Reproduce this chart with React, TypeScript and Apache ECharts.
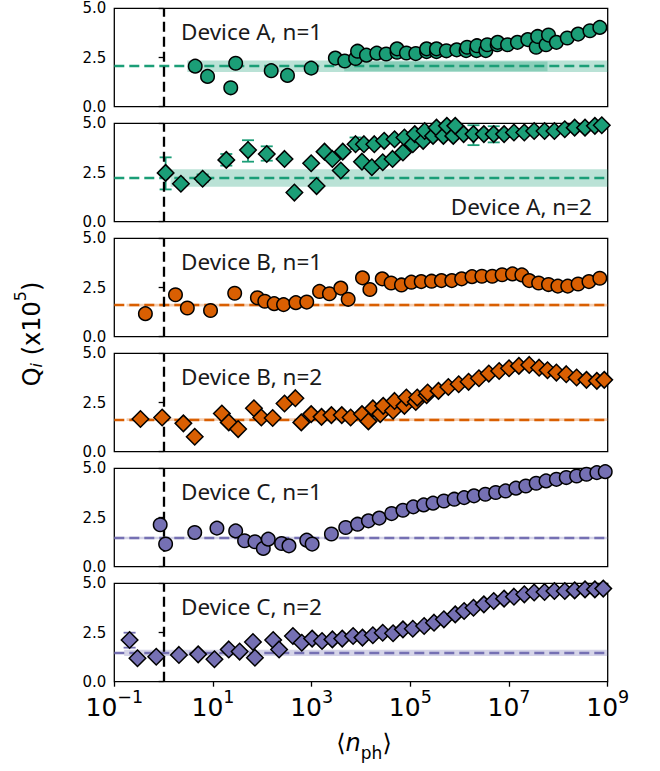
import React, { useEffect, useRef } from "react";
import * as echarts from "echarts";

// x values are log10(<n_ph>), y values are Q_i in units of 1e5
const xTickExponents = [-1, 1, 3, 5, 7, 9];
const yTickValues = [0, 2.5, 5];

// Device A, n=1 (circles)
const aN1LogN = [0.64, 0.89, 1.36, 1.46, 2.18, 2.51, 2.99, 3.48, 3.67, 3.89, 3.93, 4.11, 4.32, 4.51, 4.73, 4.73, 4.92, 5.11, 5.33, 5.33, 5.53, 5.53, 5.73, 5.94, 6.13, 6.15, 6.34, 6.35, 6.53, 6.56, 6.76, 6.77, 6.97, 7.17, 7.38, 7.55, 7.58, 7.75, 7.8, 7.96, 8.18, 8.4, 8.64, 8.84];
const aN1Q = [2.06, 1.54, 0.96, 2.21, 1.83, 1.59, 1.96, 2.47, 2.32, 2.45, 2.82, 2.62, 2.72, 2.68, 2.77, 2.94, 2.73, 2.7, 2.8, 2.94, 2.8, 2.94, 2.84, 2.89, 2.85, 3.02, 2.85, 3.1, 2.85, 3.15, 3.15, 3.27, 3.15, 3.27, 3.41, 3.02, 3.57, 3.15, 3.64, 3.27, 3.49, 3.69, 3.86, 4.03];

// Device A, n=2 (diamonds)
const aN2LogN = [0.04, 0.35, 0.79, 1.27, 1.71, 2.09, 2.45, 2.65, 2.99, 3.1, 3.26, 3.42, 3.59, 3.63, 3.89, 4.02, 4.06, 4.22, 4.27, 4.44, 4.47, 4.64, 4.68, 4.85, 4.88, 5.05, 5.09, 5.26, 5.29, 5.46, 5.53, 5.67, 5.74, 5.87, 5.91, 6.08, 6.28, 6.49, 6.69, 6.9, 7.1, 7.31, 7.51, 7.72, 7.92, 8.13, 8.33, 8.54, 8.74, 8.88];
const aN2Q = [2.48, 1.93, 2.18, 3.14, 3.64, 3.44, 3.19, 1.48, 2.97, 1.81, 3.56, 3.19, 2.6, 3.56, 3.94, 3.05, 3.94, 2.77, 3.94, 3.02, 4.11, 3.19, 4.19, 3.52, 4.28, 3.94, 4.45, 4.11, 4.61, 4.36, 4.78, 4.36, 4.87, 4.36, 4.87, 4.45, 4.45, 4.45, 4.45, 4.45, 4.53, 4.53, 4.61, 4.61, 4.61, 4.7, 4.78, 4.78, 4.87, 4.9];
const aN2ErrLogN = [0.04, 0.79, 1.27, 1.71, 2.09, 3.89, 6.28, 6.69];
const aN2ErrLow = [1.64, 2.02, 2.85, 3.05, 3.1, 3.69, 3.89, 4.03];
const aN2ErrHigh = [3.27, 2.4, 3.44, 4.14, 3.83, 4.28, 4.9, 4.85];

// Device B, n=1 (circles)
const bN1LogN = [-0.37, 0.24, 0.48, 0.95, 1.44, 1.9, 2.05, 2.24, 2.43, 2.68, 2.9, 3.16, 3.36, 3.59, 3.74, 4.03, 4.18, 4.43, 4.61, 4.82, 5.02, 5.22, 5.43, 5.63, 5.84, 6.04, 6.25, 6.45, 6.66, 6.86, 7.07, 7.26, 7.41, 7.6, 7.8, 7.99, 8.19, 8.4, 8.62, 8.84];
const bN1Q = [1.17, 2.13, 1.46, 1.33, 2.21, 1.98, 1.8, 1.68, 1.63, 1.73, 1.76, 2.3, 2.18, 2.47, 1.9, 2.99, 2.4, 2.94, 2.73, 2.63, 2.77, 2.8, 2.82, 2.85, 2.85, 2.94, 3.05, 3.07, 3.07, 3.15, 3.19, 3.14, 2.85, 2.73, 2.65, 2.57, 2.57, 2.68, 2.8, 2.97];

// Device B, n=2 (diamonds)
const bN2LogN = [-0.47, -0.03, 0.4, 0.63, 1.18, 1.32, 1.51, 1.83, 1.98, 2.21, 2.45, 2.67, 2.79, 2.99, 3.2, 3.4, 3.61, 3.79, 4.02, 4.15, 4.24, 4.39, 4.45, 4.65, 4.68, 4.88, 4.92, 5.11, 5.14, 5.33, 5.35, 5.57, 5.77, 5.98, 6.18, 6.39, 6.59, 6.8, 7.0, 7.2, 7.41, 7.61, 7.78, 7.96, 8.16, 8.37, 8.57, 8.78, 8.93];
const bN2Q = [1.66, 1.74, 1.44, 0.76, 1.94, 1.49, 1.15, 2.21, 1.74, 1.71, 2.45, 2.72, 1.49, 1.91, 1.77, 1.86, 1.86, 1.74, 1.91, 1.54, 2.2, 1.91, 2.33, 2.08, 2.58, 2.33, 2.75, 2.53, 2.75, 2.87, 3.01, 3.09, 3.29, 3.43, 3.55, 3.73, 3.97, 4.1, 4.24, 4.36, 4.41, 4.27, 4.14, 4.02, 3.94, 3.77, 3.65, 3.6, 3.65];

// Device C, n=1 (circles)
const cN1LogN = [-0.07, 0.04, 0.63, 1.08, 1.46, 1.64, 1.85, 2.02, 2.12, 2.39, 2.54, 2.9, 3.01, 3.4, 3.69, 3.93, 4.15, 4.37, 4.62, 4.85, 5.06, 5.27, 5.46, 5.68, 5.89, 6.09, 6.29, 6.52, 6.73, 6.93, 7.14, 7.34, 7.55, 7.75, 7.96, 8.16, 8.37, 8.57, 8.78, 8.95];
const cN1Q = [2.13, 1.15, 1.74, 1.96, 1.82, 1.32, 1.27, 0.93, 1.4, 1.18, 1.06, 1.35, 1.15, 1.66, 1.99, 2.16, 2.33, 2.47, 2.7, 2.87, 3.04, 3.14, 3.23, 3.34, 3.43, 3.51, 3.6, 3.68, 3.77, 3.85, 3.99, 4.1, 4.24, 4.36, 4.44, 4.53, 4.61, 4.7, 4.78, 4.83];

// Device C, n=2 (diamonds)
const cN2LogN = [-0.69, -0.53, -0.15, 0.31, 0.7, 1.03, 1.32, 1.54, 1.81, 1.85, 2.22, 2.34, 2.62, 2.8, 3.01, 3.21, 3.42, 3.62, 3.84, 4.03, 4.24, 4.44, 4.65, 4.85, 5.05, 5.28, 5.48, 5.68, 5.91, 6.09, 6.28, 6.49, 6.69, 6.9, 7.1, 7.31, 7.51, 7.72, 7.92, 8.13, 8.33, 8.54, 8.74, 8.91];
const cN2Q = [2.12, 1.19, 1.27, 1.36, 1.39, 1.14, 1.64, 1.53, 2.02, 1.22, 2.12, 1.64, 2.32, 1.98, 2.19, 2.07, 2.15, 2.19, 2.32, 2.24, 2.36, 2.49, 2.46, 2.66, 2.69, 2.83, 3.0, 3.17, 3.42, 3.59, 3.76, 3.93, 4.1, 4.22, 4.32, 4.44, 4.53, 4.56, 4.61, 4.61, 4.64, 4.69, 4.69, 4.73];
const cN2ErrLogN = [-0.69];
const cN2ErrLow = [1.73];
const cN2ErrHigh = [2.49];

// Low-power reference Q_i (dashed) and shaded bands [xStart, xEnd, qLow, qHigh]
const refQ = [2.1, 2.22, 1.6, 1.63, 1.46, 1.47];
const bandsA1 = [[0.48, 9, 1.76, 2.35], [3.66, 7.78, 1.8, 2.3]];
const bandsA2 = [[0.14, 9, 1.78, 2.66]];
const bandsB1 = [[-0.75, 9, 1.53, 1.68]];
const bandsB2 = [[-0.75, 9, 1.56, 1.7]];
const bandsC1 = [[-1, 9, 1.4, 1.52]];
const bandsC2 = [[-0.8, 9, 1.3, 1.62]];
const vLineLogN = 0;

const panelLabels = ["Device A, n=1", "Device A, n=2", "Device B, n=1", "Device B, n=2", "Device C, n=1", "Device C, n=2"];

const GREEN = "#1b9e77";
const ORANGE = "#d95f02";
const PURPLE = "#7570b3";

const zip = (xs: number[], ys: number[]) => xs.map((x, i) => [x, ys[i]]);
const zip3 = (xs: number[], a: number[], b: number[]) => xs.map((x, i) => [x, a[i], b[i]]);

const hexA = (hex: string, a: number) => {
  const r = parseInt(hex.slice(1, 3), 16);
  const g = parseInt(hex.slice(3, 5), 16);
  const b = parseInt(hex.slice(5, 7), 16);
  return `rgba(${r},${g},${b},${a})`;
};

const panels = [
  { x: aN1LogN, y: aN1Q, color: GREEN, symbol: "circle", bands: bandsA1, err: null as any, labelRight: false },
  { x: aN2LogN, y: aN2Q, color: GREEN, symbol: "diamond", bands: bandsA2, err: zip3(aN2ErrLogN, aN2ErrLow, aN2ErrHigh), labelRight: true },
  { x: bN1LogN, y: bN1Q, color: ORANGE, symbol: "circle", bands: bandsB1, err: null, labelRight: false },
  { x: bN2LogN, y: bN2Q, color: ORANGE, symbol: "diamond", bands: bandsB2, err: null, labelRight: false },
  { x: cN1LogN, y: cN1Q, color: PURPLE, symbol: "circle", bands: bandsC1, err: null, labelRight: false },
  { x: cN2LogN, y: cN2Q, color: PURPLE, symbol: "diamond", bands: bandsC2, err: zip3(cN2ErrLogN, cN2ErrLow, cN2ErrHigh), labelRight: false },
];

const LEFT = 114.3;
const WIDTH = 493.4;
const TOP0 = 8.3;
const STEP = 115;
const PH = 98.4;

export default function App() {
  const ref = useRef<HTMLDivElement>(null);
  useEffect(() => {
    if (!ref.current) return;
    const chart = echarts.init(ref.current, null, { renderer: "svg" });
    const grid: any[] = [];
    const xAxis: any[] = [];
    const yAxis: any[] = [];
    const series: any[] = [];
    const graphic: any[] = [];
    const N = panels.length;
    panels.forEach((p, i) => {
      const top = TOP0 + i * STEP;
      const last = i === N - 1;
      grid.push({ left: LEFT, top, width: WIDTH, height: PH, show: true, borderColor: "#000", borderWidth: 1.3, backgroundColor: "transparent", containLabel: false });
      xAxis.push({
        type: "value", gridIndex: i, min: -1, max: 9, interval: 2,
        axisLine: { show: false },
        axisTick: { show: last, length: 5, lineStyle: { color: "#000", width: 1.3 } },
        splitLine: { show: false },
        axisLabel: {
          show: last, margin: 6, color: "#000",
          formatter: (v: number) => (xTickExponents.includes(v) ? `{b|10}{s|${v < 0 ? "\u2212" : ""}${Math.abs(v)}}` : ""),
          rich: {
            b: { fontSize: 25, fontFamily: "DejaVu Sans", color: "#000", lineHeight: 32, verticalAlign: "bottom" },
            s: { fontSize: 17.5, fontFamily: "DejaVu Sans", color: "#000", lineHeight: 20, verticalAlign: "top" },
          },
        },
      });
      yAxis.push({
        type: "value", gridIndex: i, min: 0, max: 5, interval: 2.5,
        axisLine: { show: false },
        axisTick: { show: true, length: 5, lineStyle: { color: "#000", width: 1.3 } },
        splitLine: { show: false },
        axisLabel: {
          margin: 8, color: "#000", fontSize: 15, fontFamily: "DejaVu Sans",
          formatter: (v: number) => (yTickValues.includes(v) ? v.toFixed(1) : ""),
        },
      });
      // bands + reference lines
      series.push({
        type: "scatter", xAxisIndex: i, yAxisIndex: i, data: [], silent: true, z: 1,
        markArea: {
          silent: true,
          itemStyle: { color: hexA(p.color, 0.3) },
          data: p.bands.map((b) => [{ xAxis: b[0], yAxis: b[2] }, { xAxis: b[1], yAxis: b[3] }]),
        },
        markLine: {
          silent: true, symbol: ["none", "none"], label: { show: false },
          data: [
            { yAxis: refQ[i], lineStyle: { color: p.color, type: [10, 5], width: 2.3, opacity: 1 } },
            { xAxis: vLineLogN, lineStyle: { color: "#000", type: [10, 5], width: 2.3, opacity: 1 } },
          ],
        },
      });
      if (p.err) {
        const col = p.color;
        series.push({
          type: "custom", xAxisIndex: i, yAxisIndex: i, z: 3, silent: true,
          data: p.err, encode: { x: 0, y: [1, 2] },
          renderItem: (_params: any, api: any) => {
            const x = api.value(0);
            const lo = api.coord([x, api.value(1)]);
            const hi = api.coord([x, api.value(2)]);
            const cw = 6;
            const st = { stroke: col, lineWidth: 1.8 };
            return {
              type: "group",
              children: [
                { type: "line", shape: { x1: lo[0], y1: lo[1], x2: hi[0], y2: hi[1] }, style: st },
                { type: "line", shape: { x1: lo[0] - cw, y1: lo[1], x2: lo[0] + cw, y2: lo[1] }, style: st },
                { type: "line", shape: { x1: hi[0] - cw, y1: hi[1], x2: hi[0] + cw, y2: hi[1] }, style: st },
              ],
            };
          },
        });
      }
      series.push({
        type: "scatter", xAxisIndex: i, yAxisIndex: i, z: 5,
        symbol: p.symbol,
        symbolSize: p.symbol === "circle" ? 13.5 : 16.5,
        itemStyle: { color: p.color, borderColor: "#000", borderWidth: 1.5, opacity: 1 },
        data: zip(p.x, p.y),
      });
      // panel label
      graphic.push({
        type: "text",
        x: p.labelRight ? 592 : 181,
        y: p.labelRight ? top + 83 : top + 23,
        style: {
          text: panelLabels[i], fill: "#1a1a1a", font: "22.5px 'Noto Sans'",
          align: p.labelRight ? "right" : "left", verticalAlign: "middle",
        },
        z: 20,
      });
    });

    graphic.push({
      type: "text", x: 28, y: 334, rotation: Math.PI / 2,
      style: {
        text: "{q|Q}{sub|i}{q| (x10}{sup|5}{q|)}",
        align: "center", verticalAlign: "middle",
        rich: {
          q: { fontSize: 24, fontFamily: "DejaVu Sans", fill: "#000", lineHeight: 32, verticalAlign: "bottom" },
          sub: { fontSize: 16, fontFamily: "DejaVu Sans", fontStyle: "italic", fill: "#000", lineHeight: 18, verticalAlign: "bottom" },
          sup: { fontSize: 16, fontFamily: "DejaVu Sans", fill: "#000", lineHeight: 18, verticalAlign: "top" },
        },
      },
    });
    graphic.push({
      type: "text", x: LEFT + WIDTH / 2 + 3, y: 746,
      style: {
        text: "{a|\u27E8}{n|n}{s|ph}{a|\u27E9}",
        align: "center", verticalAlign: "middle",
        rich: {
          a: { fontSize: 24, fontFamily: "DejaVu Sans", fill: "#000", lineHeight: 30, verticalAlign: "top" },
          n: { fontSize: 24, fontFamily: "DejaVu Sans", fontStyle: "italic", fill: "#000", lineHeight: 30, verticalAlign: "top" },
          s: { fontSize: 17, fontFamily: "DejaVu Sans", fill: "#000", lineHeight: 22, verticalAlign: "bottom" },
        },
      },
    });

    chart.setOption({
      animation: false,
      backgroundColor: "#fff",
      grid, xAxis, yAxis, series, graphic,
    });
    return () => chart.dispose();
  }, []);
  return <div ref={ref} style={{ position: "fixed", left: 0, top: 0, width: 660, height: 771 }} />;
}
